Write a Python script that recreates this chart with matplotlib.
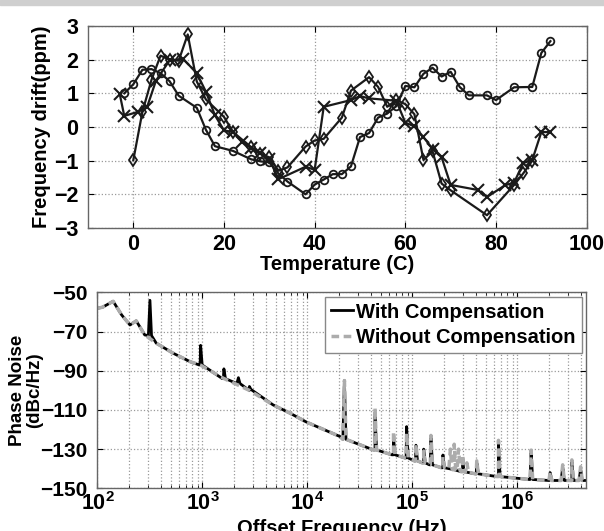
import matplotlib
matplotlib.use('Agg')
import matplotlib.pyplot as plt
from matplotlib.patches import Rectangle

plt.rcParams['font.family'] = ['Liberation Sans', 'DejaVu Sans']
plt.rcParams['font.weight'] = 'bold'
plt.rcParams['axes.labelweight'] = 'bold'

# ---- top panel data: frequency drift vs temperature ----
t_circ = [-2, 0, 2, 4, 6, 8, 10, 14, 16, 18, 22, 26, 28, 30, 32, 34, 38, 40, 42, 44,
          46, 48, 50, 52, 54, 56, 58, 60, 62, 64, 66, 68, 70, 72, 74, 78, 80, 84, 88, 90, 92]
d_circ = [1.0, 1.27, 1.7, 1.72, 1.6, 1.36, 0.93, 0.57, -0.08, -0.57, -0.71, -0.96, -1.02,
          -1.05, -1.38, -1.62, -2.0, -1.71, -1.56, -1.4, -1.4, -1.17, -0.3, -0.18, 0.28,
          0.4, 0.62, 1.22, 1.18, 1.58, 1.76, 1.5, 1.64, 1.19, 0.94, 0.94, 0.8, 1.18, 1.19,
          2.2, 2.55]

t_diam = [0, 2, 4, 6, 8, 10, 12, 14, 16, 20, 22, 26, 28, 30, 32, 34, 38, 40, 42, 46,
          48, 52, 54, 56, 58, 60, 62, 64, 66, 68, 70, 78, 84, 86, 88]
d_diam = [-0.98, 0.45, 1.4, 2.12, 2.0, 1.97, 2.75, 1.35, 0.82, 0.3, -0.15, -0.6, -0.8,
          -0.9, -1.3, -1.2, -0.58, -0.4, -0.35, 0.28, 1.08, 1.48, 1.19, 0.6, 0.8, 0.68,
          0.38, -0.98, -0.72, -1.68, -1.88, -2.62, -1.72, -1.38, -1.0]

t_x = [-3, -2, 1, 3, 5, 8, 11, 14, 16, 18, 20, 22, 24, 26, 28, 30, 32, 38, 40, 42, 48,
       50, 52, 58, 60, 62, 64, 66, 68, 70, 76, 78, 82, 84, 86, 88, 90, 92]
d_x = [0.98, 0.33, 0.45, 0.58, 1.38, 1.98, 2.02, 1.6, 1.05, 0.35, -0.1, -0.15, -0.45,
       -0.62, -0.78, -0.95, -1.55, -1.18, -1.27, 0.6, 0.8, 0.92, 0.85, 0.78, 0.13, 0.02,
       -0.3, -0.65, -0.9, -1.72, -1.87, -2.08, -1.73, -1.65, -1.07, -0.98, -0.15, -0.15]

# ---- bottom panel data: phase noise ----
f_base = [100, 112, 141, 170, 204, 234, 282, 363, 525, 760, 950, 1580, 2800, 4700, 6800,
          9800, 20500, 44000, 66000, 87000, 107000, 128000, 148000, 195000, 250000,
          300000, 405000, 660000, 1320000, 2000000, 3300000, 4500000]
pn_base = [-58.1, -57.5, -54.5, -61.5, -66.6, -64.5, -71.7, -75.9, -81, -85.3, -87,
           -93.8, -100, -107.4, -111.6, -116.2, -123.6, -130.4, -132.9, -134.5, -136,
           -137, -138, -139.5, -140.5, -141.5, -142.6, -144, -145.5, -146, -146, -146]

# spikes: (frequency, foot level, peak level)
spikes_with = [(316, -72, -54), (960, -87, -77), (1600, -94, -89), (2200, -96.5, -93.5),
               (2800, -99.5, -98), (22500, -125, -95), (44000, -130.4, -112),
               (66000, -132.9, -124), (88000, -134.5, -118.5), (108000, -136, -128),
               (128000, -137, -130), (150000, -138, -124), (195000, -139.5, -133),
               (300000, -141.5, -135), (410000, -142.6, -137), (660000, -144, -127),
               (1350000, -145.5, -131), (2050000, -146, -142), (2700000, -146, -139),
               (3300000, -146, -136), (4000000, -146, -140)]
spikes_without = [(22500, -125, -95), (44000, -130.4, -109), (66000, -132.9, -121),
                  (88000, -134.5, -122), (108000, -136, -127.5), (128000, -137, -131),
                  (150000, -138, -123), (195000, -139.5, -134), (230000, -140, -130),
                  (250000, -140.5, -127.5), (275000, -141, -130), (300000, -141.5, -133),
                  (330000, -141.8, -137), (410000, -142.6, -136), (660000, -144, -125.5),
                  (1350000, -145.5, -130.5), (2050000, -146, -141.5),
                  (2700000, -146, -138), (3300000, -146, -135.5), (4000000, -146, -139)]

SPIKE_W = 1.035  # half width of a spike foot, as a frequency ratio


def build_curve(spikes):
    pts = list(zip(f_base, pn_base))
    for f, foot, peak in spikes:
        pts += [(f / SPIKE_W, foot), (f, peak), (f * SPIKE_W, foot)]
    pts = sorted(pts, key=lambda p: p[0])
    return [p[0] for p in pts], [p[1] for p in pts]


fig = plt.figure(figsize=(6.04, 5.31), dpi=100)
fig.patches.append(Rectangle((0, 1 - 5 / 531), 1, 5 / 531, transform=fig.transFigure,
                             color='#cfcfcf', zorder=0))

grid_kw = dict(color='#9a9a9a', linestyle=':', linewidth=0.9)

# top axes
ax1 = fig.add_axes([0.1457, 0.5706, 0.8256, 0.3804])
ax1.plot(t_circ, d_circ, '-o', color='#1a1a1a', lw=1.6, ms=5.5, mfc='none', mew=1.3)
ax1.plot(t_diam, d_diam, '-d', color='#1a1a1a', lw=1.6, ms=6, mfc='none', mew=1.3)
ax1.plot(t_x, d_x, '-x', color='#1a1a1a', lw=1.6, ms=8.5, mew=1.5)
ax1.set_xlim(-10, 100)
ax1.set_ylim(-3, 3)
ax1.set_xticks([0, 20, 40, 60, 80, 100])
ax1.set_yticks([-3, -2, -1, 0, 1, 2, 3])
ax1.grid(True, **grid_kw)
ax1.set_xlabel('Temperature (C)', fontsize=14.5, labelpad=0)
ax1.set_ylabel('Frequency drift(ppm)', fontsize=14.5, labelpad=2)

# bottom axes
ax2 = fig.add_axes([0.1614, 0.0804, 0.8088, 0.3688])
fw, pw = build_curve(spikes_with)
fo, po = build_curve(spikes_without)
ax2.semilogx(fw, pw, color='black', lw=2.0, label='With Compensation')
ax2.semilogx(fo, po, color='#acacac', lw=2.5, dashes=(2.2, 1.3),
             label='Without Compensation')
ax2.set_xlim(100, 4.5e6)
ax2.set_ylim(-150, -50)
ax2.set_yticks([-150, -130, -110, -90, -70, -50])
ax2.grid(True, which='major', **grid_kw)
ax2.grid(True, which='minor', axis='x', **grid_kw)
ax2.set_xlabel('Offset Frequency (Hz)', fontsize=14.5, labelpad=2.5)
ax2.set_ylabel('Phase Noise\n(dBc/Hz)', fontsize=13.5, linespacing=0.95)
ax2.yaxis.set_label_coords(-0.112, 0.5)
leg = ax2.legend(loc='upper right', fontsize=14.5, handlelength=1.1, handletextpad=0.15,
                 borderpad=0.3, labelspacing=0.3, borderaxespad=0.2, fancybox=False,
                 framealpha=1)
leg.get_frame().set_edgecolor('#888888')
leg.get_frame().set_linewidth(1.0)

for ax in (ax1, ax2):
    ax.tick_params(direction='in', top=True, right=True, labelsize=15.5, length=4,
                   width=0.8, pad=7)
    ax.tick_params(which='minor', direction='in', top=True, right=True, length=2.5)
    for lab in ax.get_xticklabels() + ax.get_yticklabels():
        lab.set_fontweight('bold')
    for s in ax.spines.values():
        s.set_color('#666666')
        s.set_linewidth(1.0)
ax1.tick_params(axis='x', pad=4)
ax2.tick_params(axis='x', pad=3)
ax2.tick_params(axis='y', labelsize=15, pad=7)

fig.savefig('out.png', dpi=100)
